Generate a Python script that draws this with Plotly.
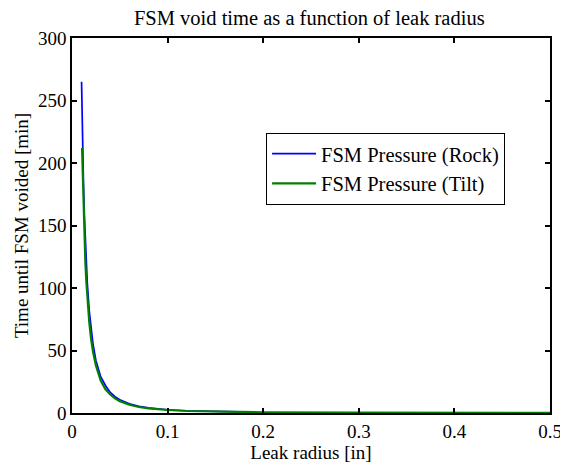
import plotly.graph_objects as go

# Leak radius [in] and void time [min]
rock_r = [0.010, 0.0105, 0.011, 0.012, 0.013, 0.014, 0.015, 0.016, 0.018, 0.020,
          0.022, 0.025, 0.028, 0.030, 0.035, 0.040, 0.045, 0.050, 0.060, 0.070,
          0.080, 0.090, 0.100, 0.120, 0.150, 0.175]
rock_t = [265, 240, 219, 184, 157, 135, 118, 104, 82, 66,
          55, 42, 34, 29, 22, 16.5, 13, 10.6, 7.4, 5.4,
          4.1, 3.3, 2.6, 1.8, 1.2, 0.9]

tilt_r = [0.0105, 0.011, 0.012, 0.013, 0.014, 0.015, 0.016, 0.018, 0.020, 0.022,
          0.025, 0.028, 0.030, 0.035, 0.040, 0.045, 0.050, 0.060, 0.070, 0.080,
          0.090, 0.100, 0.120, 0.150, 0.200, 0.300, 0.400, 0.500]
tilt_t = [212, 195, 164, 140, 120, 105, 92, 73, 59, 49,
          38, 30, 26, 19, 14.8, 11.7, 9.5, 6.6, 4.8, 3.7,
          2.9, 2.4, 1.6, 1.05, 0.6, 0.26, 0.15, 0.1]

x_ticks = [0, 0.1, 0.2, 0.3, 0.4, 0.5]
x_labels = ["0", "0.1", "0.2", "0.3", "0.4", "0.5"]
y_ticks = [0, 50, 100, 150, 200, 250, 300]

font = "Liberation Serif, Times New Roman, serif"
fs = 19

fig = go.Figure()
fig.add_trace(go.Scatter(x=rock_r, y=rock_t, mode="lines", name="FSM Pressure (Rock)",
                         line=dict(color="#0000FF", width=1.7)))
fig.add_trace(go.Scatter(x=tilt_r, y=tilt_t, mode="lines", name="FSM Pressure (Tilt)",
                         line=dict(color="#008000", width=2.2)))

axis_common = dict(showgrid=False, zeroline=False, showline=True, linecolor="black",
                   linewidth=1.5, mirror="ticks", ticks="inside", ticklen=5,
                   tickcolor="black", tickwidth=1.5, automargin=False,
                   tickfont=dict(family=font, size=fs, color="black"),
                   title_font=dict(family=font, size=fs, color="black"))

fig.update_xaxes(range=[0, 0.5], tickvals=x_ticks, ticktext=x_labels,
                 title_text="Leak radius [in]", title_standoff=0, **axis_common)
fig.update_yaxes(range=[0, 300], tickvals=y_ticks,
                 title_text="Time until FSM voided [min]", title_standoff=4, **axis_common)

# page body has an 8px margin, so the figure is 8px smaller and margins compensate
fig.update_layout(
    width=560, height=456,
    margin=dict(l=64, r=18, t=30, b=51),
    paper_bgcolor="white", plot_bgcolor="white",
    title=dict(text="FSM void time as a function of leak radius", x=0.538, xanchor="center",
               y=0.979, yanchor="middle",
               font=dict(family=font, size=20.5, color="black")),
    legend=dict(x=0.406, y=0.747, xanchor="left", yanchor="top",
                bgcolor="white", bordercolor="black", borderwidth=1,
                font=dict(family=font, size=20.5, color="black"),
                tracegroupgap=0, itemwidth=44),
    showlegend=True,
)

fig.write_html("out.html")
